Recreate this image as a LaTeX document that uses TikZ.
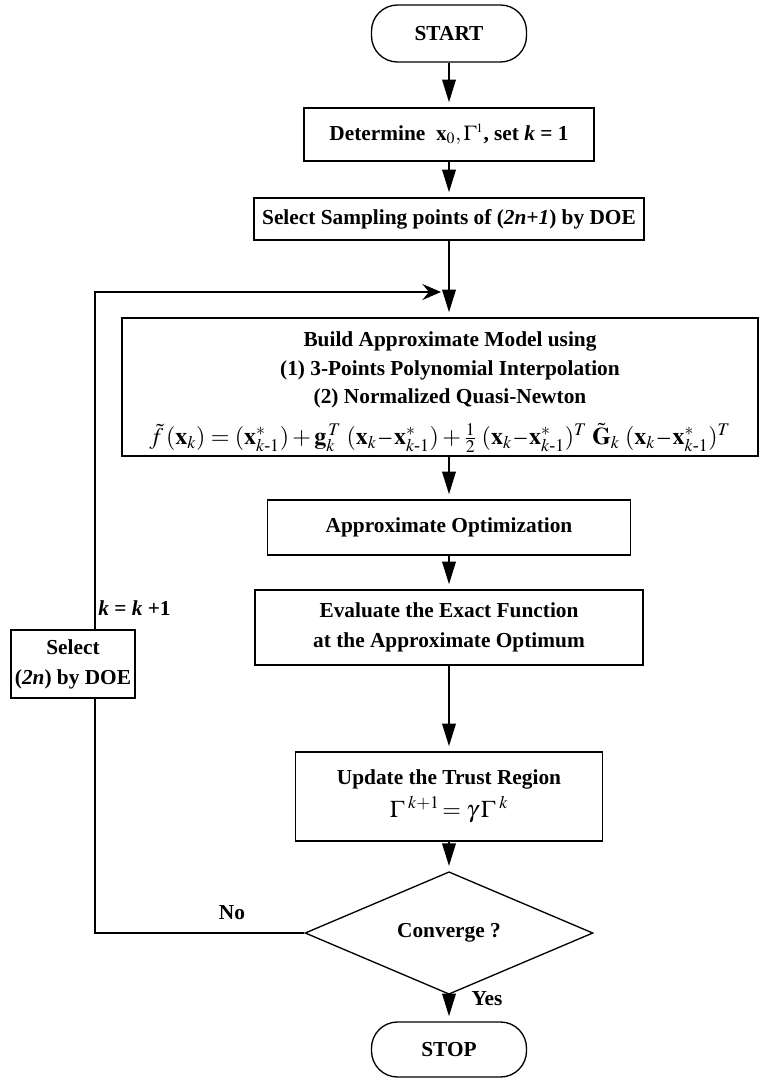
\documentclass[tikz,border=0pt]{standalone}
\usepackage{amsmath}
\usepackage{mathptmx}
\usepackage{fontspec}
\setmainfont{Liberation Serif}
\usetikzlibrary{arrows.meta,shapes.geometric}
\newcommand\pxl[1]{#1*0.75pt}
\newcommand\mdash{\,\text{–}\,}
\begin{document}
\begin{tikzpicture}[x=0.75pt,y=-0.75pt,
  every node/.style={font=\fontsize{16}{22.5}\selectfont\bfseries, inner sep=0pt},
  procbox/.style n args={2}{draw, line width=1pt, rectangle, minimum width=\pxl{#1}, minimum height=\pxl{#2}, align=center},
  termbox/.style n args={2}{draw, line width=1pt, rectangle, rounded corners=\pxl{26}, minimum width=\pxl{#1}, minimum height=\pxl{#2}},
  decbox/.style n args={2}{draw, line width=1pt, diamond, minimum width=\pxl{#1}, minimum height=\pxl{#2}},
  flow/.style={line width=1.8pt, -{Triangle[length=17pt,width=10pt]}, shorten >=\pxl{5}},
  loopline/.style={line width=1.5pt},
  looparrow/.style={line width=1.5pt, -{Stealth[length=14pt,width=12pt,inset=5pt]}},
  lbl/.style={font=\fontsize{16}{18}\selectfont\bfseries}]
\useasboundingbox (0,0) rectangle (760,1078);

\node[termbox={155}{57}] (start) at (449,33.5) {START};
\node[procbox={290}{53}] (det) at (449,134.5) {Determine\enspace $\mathbf{x}_0,\Gamma^{\scriptscriptstyle 1}$, set \textit{k} = 1};
\node[procbox={390}{42}] (sel) at (449,219) {Select Sampling points of (\textit{2n+1}) by DOE};
\node[procbox={636}{138}] (build) at (440,387) {};
\node[align=center, font=\fontsize{16}{21.5}\selectfont\bfseries] (buildtxt) at (450,370) {Build Approximate Model using\\(1) 3-Points Polynomial Interpolation\\(2) Normalized Quasi-Newton};
\node[font=\fontsize{18}{19}\selectfont] (buildeq) at (440,438) {$\tilde{f}\,(\mathbf{x}_k) = (\mathbf{x}^*_{k\text{-}1}) + \mathbf{g}_k^{\,T}\;(\mathbf{x}_k \mdash \mathbf{x}^*_{k\text{-}1}) + \frac{1}{2}\;(\mathbf{x}_k \mdash \mathbf{x}^*_{k\text{-}1})^T\;\tilde{\mathbf{G}}_k\;(\mathbf{x}_k \mdash \mathbf{x}^*_{k\text{-}1})^T$};
\node[procbox={363}{55}] (aopt) at (449,527.5) {Approximate Optimization};
\node[procbox={388}{75}] (eval) at (449,627.5) {Evaluate the Exact Function\\at the Approximate Optimum};
\node[procbox={307}{89}] (upd) at (449,796.5) {Update the Trust Region\\[2pt]{\mdseries\fontsize{18}{19}\selectfont $\Gamma^{\;k+1}\!=\gamma\,\Gamma^{\;k}$}};
\node[decbox={288}{88}] (conv) at (449,933) {Converge ?};
\node[termbox={155}{55}] (stop) at (449,1049.5) {STOP};
\node[procbox={124}{68}] (sel2) at (73,664) {Select\\(\textit{2n}) by DOE};

\coordinate (lc) at (95,933);
\coordinate (lt) at (95,292);
\coordinate (lend) at (441,292);

\draw[flow] (start) -- (det);
\draw[flow] (det) -- (sel);
\draw[flow] (sel.south) -- (sel.south |- build.north);
\draw[flow] (aopt.north |- build.south) -- (aopt.north);
\draw[flow] (aopt) -- (eval);
\draw[flow] (eval) -- (upd);
\draw[flow] (upd) -- (conv);
\draw[flow] (conv) -- (stop);

\draw[loopline] (conv.west) -- (lc) -- (lc |- sel2.south);
\draw[looparrow] (lt |- sel2.north) -- (lt) -- (lend);

\node[lbl, anchor=west] (kk) at (98,608) {\textit{k} = \textit{k} +1};
\node[lbl] (no) at (232,913) {No};
\node[lbl] (yes) at (487,999) {Yes};
\end{tikzpicture}
\end{document}
